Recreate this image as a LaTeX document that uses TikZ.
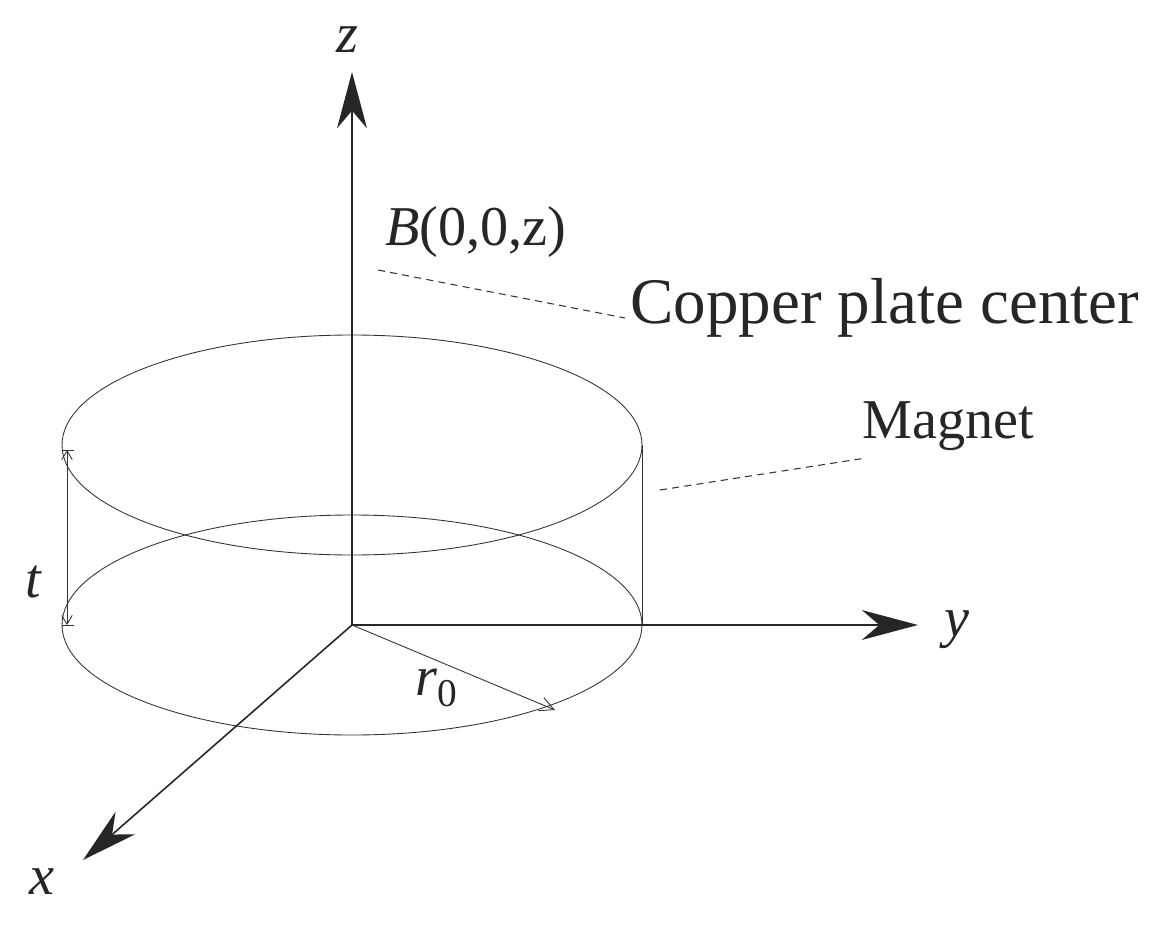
\documentclass[tikz,border=0pt]{standalone}
\usepackage{fontspec}
\setmainfont{Liberation Serif}
\usetikzlibrary{arrows.meta}
\begin{document}
\begin{tikzpicture}[x=0.02cm,y=-0.02cm,
  ax/.style={line width=0.9pt,-{Stealth[length=32pt,width=17pt,inset=10pt]},draw=black!85},
  thin/.style={line width=0.5pt,draw=black!80},
  lbl/.style={font=\fontsize{32pt}{34pt}\selectfont,text=black!85,inner sep=0pt},
  dsh/.style={line width=0.6pt,dashed,dash pattern=on 4pt off 3pt,draw=black!80}]
\useasboundingbox (0,0) rectangle (1158,929);
\coordinate (O) at (352,625);
\coordinate (Z) at (352,72);
\coordinate (Y) at (918,625);
\coordinate (X) at (83,860);
\draw[thin] (352,625) ellipse [x radius=290,y radius=110];
\draw[thin] (352,445) ellipse [x radius=290,y radius=110];
\draw[thin] (642,445) -- (642,625);
\draw[ax] (O) -- (Z);
\draw[ax] (O) -- (Y);
\draw[ax] (O) -- (X);
\coordinate (R) at (555,710);
\draw[thin,-{Straight Barb[length=8pt,width=8pt]}] (O) -- (R);
\coordinate (T1) at (67,450);
\coordinate (T2) at (67,625);
\draw[thin,{Straight Barb[length=5pt,width=6pt]}-{Straight Barb[length=5pt,width=6pt]}] (T1) -- (T2);
\draw[thin] (62,450) -- (74,450) (62,625) -- (74,625);
\node[lbl] (zl) at (347,40) {\itshape z};
\node[lbl] (yl) at (957,630) {\itshape y};
\node[lbl] (xl) at (42,882) {\itshape x};
\node[lbl] (tl) at (33,582) {\itshape t};
\node[lbl] (r0) at (437,688) {\itshape r\textsubscript{\upshape 0}};
\node[lbl,anchor=west] (B) at (385,232) {\itshape B\upshape(0,0,z)};
\node[lbl,anchor=west,font=\fontsize{37pt}{40pt}\selectfont] (cp) at (630,308) {Copper plate center};
\node[lbl,anchor=west] (mg) at (862,426) {Magnet};
\coordinate (d1) at (378,270);
\coordinate (d2) at (625,318);
\coordinate (d3) at (660,490);
\coordinate (d4) at (866,458);
\draw[dsh] (d1) -- (d2);
\draw[dsh] (d3) -- (d4);
\end{tikzpicture}
\end{document}
